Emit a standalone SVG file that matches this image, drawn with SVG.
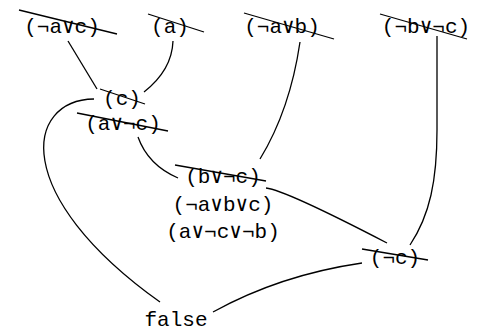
<svg xmlns="http://www.w3.org/2000/svg" width="485" height="332" viewBox="0 0 485 332">
<style>
text{font-family:"Liberation Mono","DejaVu Sans Mono",monospace;font-size:21px;fill:#000;text-anchor:middle}
.s{stroke:#000;stroke-width:1.3;fill:none}
</style>
<rect width="485" height="332" fill="#fff"/>
<g id="connectors" class="s">
<path d="M68,41 L97,89"/>
<path d="M173,41 Q172,70 144,92"/>
<path d="M300,42 Q290,110 260,159"/>
<path d="M437,36 L437,130 C437,180 430,215 410,245"/>
<path d="M94,99 C25,100 10,195 160,302"/>
<path d="M138,137 Q148,165 178,178"/>
<path d="M266,188 Q285,190 387,243"/>
<path d="M362,263 Q280,275 213,312"/>
</g>
<g id="n1"><text x="62" y="33">(¬a∨c)</text><line class="s" x1="19" y1="10" x2="117" y2="34"/></g>
<g id="n2"><text x="170" y="33">(a)</text><line class="s" x1="148" y1="14" x2="204" y2="32"/></g>
<g id="n3"><text x="282" y="33">(¬a∨b)</text><line class="s" x1="244" y1="13" x2="334" y2="39"/></g>
<g id="n4"><text x="426" y="33">(¬b∨¬c)</text><line class="s" x1="380" y1="14" x2="467" y2="39"/></g>
<g id="n5"><text x="122" y="105">(c)</text><line class="s" x1="100" y1="89" x2="145" y2="104"/></g>
<g id="n6"><text x="123" y="130">(a∨¬c)</text><line class="s" x1="77" y1="113" x2="168" y2="131"/></g>
<g id="n7"><text x="223" y="183">(b∨¬c)</text><line class="s" x1="175" y1="165" x2="266" y2="181"/>
<text x="223" y="211">(¬a∨b∨c)</text>
<text x="223" y="238">(a∨¬c∨¬b)</text></g>
<g id="n8"><text x="395" y="264">(¬c)</text><line class="s" x1="362" y1="249" x2="428" y2="260"/></g>
<g id="n9"><text x="176" y="326">false</text></g>
</svg>
